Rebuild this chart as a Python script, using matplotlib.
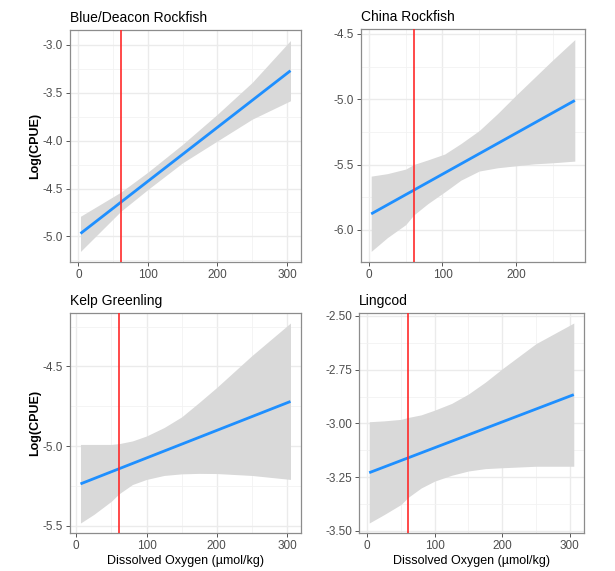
import matplotlib
matplotlib.use("Agg")
import matplotlib.pyplot as plt
from matplotlib.ticker import MultipleLocator, FormatStrFormatter

plt.rcParams['font.family'] = ['Liberation Sans', 'DejaVu Sans']
plt.rcParams['axes.unicode_minus'] = False

# values (x in umol/kg, y = log CPUE)
titles = ["Blue/Deacon Rockfish", "China Rockfish", "Kelp Greenling", "Lingcod"]
hypoxia_do = 61

# fitted line: start and end of the linear fit
blue_fit_x = [3, 305]
blue_fit = [-4.97, -3.27]
china_fit_x = [3, 280]
china_fit = [-5.878, -5.01]
kelp_fit_x = [6, 305]
kelp_fit = [-5.238, -4.72]
ling_fit_x = [3, 306]
ling_fit = [-3.229, -2.866]

# confidence band edges
blue_x = [3, 61, 100, 150, 200, 250, 305]
blue_lo = [-5.157, -4.738, -4.51, -4.231, -4.003, -3.776, -3.584]
blue_hi = [-4.79, -4.538, -4.329, -4.038, -3.724, -3.392, -2.955]

china_x = [3, 25, 50, 61, 80, 103, 125, 150, 175, 200, 225, 250, 280]
china_lo = [-6.165, -6.06, -5.96, -5.886, -5.80, -5.71, -5.62, -5.55, -5.525,
            -5.51, -5.495, -5.487, -5.474]
china_hi = [-5.589, -5.57, -5.535, -5.50, -5.465, -5.42, -5.34, -5.24, -5.11,
            -4.97, -4.835, -4.70, -4.544]

kelp_x = [6, 25, 50, 61, 80, 100, 125, 150, 175, 200, 250, 305]
kelp_lo = [-5.484, -5.43, -5.347, -5.30, -5.242, -5.21, -5.185, -5.175, -5.172,
           -5.173, -5.185, -5.21]
kelp_hi = [-4.99, -4.99, -4.99, -4.985, -4.968, -4.937, -4.884, -4.817, -4.726,
           -4.632, -4.432, -4.227]

ling_x = [3, 25, 50, 61, 80, 100, 125, 150, 175, 200, 250, 306]
ling_lo = [-3.463, -3.424, -3.377, -3.343, -3.30, -3.268, -3.241, -3.221, -3.21,
           -3.206, -3.199, -3.199]
ling_hi = [-2.992, -2.988, -2.981, -2.972, -2.96, -2.938, -2.907, -2.863, -2.808,
           -2.746, -2.629, -2.533]

panels = [
    (blue_x, blue_lo, blue_hi, blue_fit_x, blue_fit, 0.5, "%.1f"),
    (china_x, china_lo, china_hi, china_fit_x, china_fit, 0.5, "%.1f"),
    (kelp_x, kelp_lo, kelp_hi, kelp_fit_x, kelp_fit, 0.5, "%.1f"),
    (ling_x, ling_lo, ling_hi, ling_fit_x, ling_fit, 0.25, "%.2f"),
]

boxes = [
    [0.1138, 0.5412, 0.3756, 0.4063],
    [0.5870, 0.5412, 0.3642, 0.4080],
    [0.1138, 0.0665, 0.3756, 0.3853],
    [0.5837, 0.0665, 0.3659, 0.3853],
]

fig = plt.figure(figsize=(6.15, 5.71), dpi=100)

for i, (x, lo, hi, fx, fy, ystep, fmt) in enumerate(panels):
    ax = fig.add_axes(boxes[i])
    ax.fill_between(x, lo, hi, color="#D9D9D9", lw=0, zorder=2)
    ax.plot(fx, fy, color="#1E8FFF", lw=2, zorder=3, solid_capstyle="butt")
    ax.axvline(hypoxia_do, color="#FF2A2A", lw=1.2, zorder=4)
    ax.margins(x=0.05, y=0.05)

    ax.xaxis.set_major_locator(MultipleLocator(100))
    ax.xaxis.set_minor_locator(MultipleLocator(50))
    ax.yaxis.set_major_locator(MultipleLocator(ystep))
    ax.yaxis.set_minor_locator(MultipleLocator(ystep / 2))
    ax.yaxis.set_major_formatter(FormatStrFormatter(fmt))
    ax.grid(which="major", color="#EBEBEB", lw=1.0, zorder=0)
    ax.grid(which="minor", color="#F2F2F2", lw=0.6, zorder=0)
    ax.set_axisbelow(True)

    ax.tick_params(which="major", length=3, width=0.7, color="#555555",
                   labelsize=8.5, labelcolor="#4D4D4D", pad=2)
    ax.tick_params(which="minor", length=0)
    for sp in ax.spines.values():
        sp.set_color("#8C8C8C")
        sp.set_linewidth(0.9)

    ax.set_title(titles[i], loc="left", fontsize=10, pad=6)
    if i % 2 == 0:
        ax.set_ylabel("Log(CPUE)", fontsize=9, fontweight="bold", labelpad=1)
    if i >= 2:
        ax.set_xlabel("Dissolved Oxygen (µmol/kg)", fontsize=9, labelpad=2)

fig.savefig("out.png", dpi=100, facecolor="white")
